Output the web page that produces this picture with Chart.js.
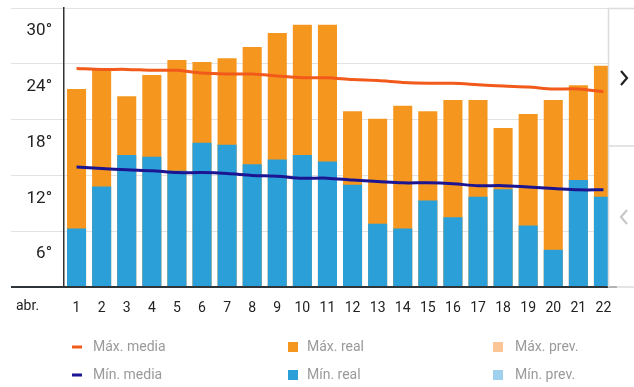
<!DOCTYPE html>
<html>
<head>
<meta charset="utf-8">
<script src="https://cdn.jsdelivr.net/npm/chart.js@4"></script>
<style>
  html, body { margin: 0; padding: 0; background: #fff; }
  #wrap { position: relative; width: 634px; height: 387px; }
</style>
</head>
<body>
<div id="wrap"><canvas id="c"></canvas></div>
<script>
const days = ['1','2','3','4','5','6','7','8','9','10','11','12','13','14','15','16','17','18','19','20','21','22'];
const maxReal = [21.3, 23.4, 20.5, 22.8, 24.4, 24.2, 24.6, 25.8, 27.3, 28.2, 28.2, 18.9, 18.1, 19.5, 18.9, 20.1, 20.1, 17.1, 18.6, 20.1, 21.7, 23.8];
const minReal = [6.3, 10.8, 14.2, 14.0, 12.5, 15.5, 15.3, 13.2, 13.7, 14.2, 13.5, 11.0, 6.8, 6.3, 9.3, 7.5, 9.7, 10.5, 6.6, 4.0, 11.5, 9.7];
const maxMedia = [23.5, 23.4, 23.4, 23.3, 23.3, 23.0, 22.9, 22.9, 22.7, 22.5, 22.5, 22.3, 22.2, 22.0, 21.9, 21.9, 21.75, 21.6, 21.5, 21.3, 21.3, 21.0];
const minMedia = [12.9, 12.75, 12.6, 12.5, 12.3, 12.3, 12.2, 12.0, 11.9, 11.7, 11.7, 11.5, 11.35, 11.2, 11.2, 11.1, 10.9, 10.9, 10.75, 10.6, 10.45, 10.45];
const maxPrev = days.map(() => null);
const minPrev = days.map(() => null);
const yTicks = [0, 6, 12, 18, 24, 30];

const FONT = 'Roboto, "Liberation Sans", sans-serif';

// leyenda en 3 columnas x 2 filas
const legendGrid = {
  id: 'legendGrid',
  afterDraw(chart) {
    const ctx = chart.ctx;
    const ds = chart.data.datasets;
    const cols = [[72, 93], [287, 307], [492, 515]];
    const rows = [347, 375];
    const order = [[0, 2, 4], [1, 3, 5]];
    ctx.save();
    ctx.font = '14px ' + FONT;
    ctx.textBaseline = 'middle';
    ctx.textAlign = 'left';
    order.forEach((row, r) => {
      row.forEach((i, c) => {
        const d = ds[i];
        const y = rows[r];
        ctx.fillStyle = d.type === 'line' ? d.borderColor : d.backgroundColor;
        if (d.type === 'line') ctx.fillRect(cols[c][0], y - 1.5, 10, 3);
        else ctx.fillRect(cols[c][0] + 1, y - 5, 10, 10);
        ctx.fillStyle = '#9a9a9a';
        ctx.fillText(d.label, cols[c][1], y);
      });
    });
    // mes
    ctx.fillStyle = '#222';
    ctx.font = '14px ' + FONT;
    ctx.fillText('abr.', 16, 306);
    ctx.restore();
  }
};

// panel de navegación a la derecha
const sidePanel = {
  id: 'sidePanel',
  afterDraw(chart) {
    const ctx = chart.ctx;
    const a = chart.chartArea;
    ctx.save();
    ctx.fillStyle = '#fff';
    ctx.fillRect(609, 0, 25, a.bottom - 1);
    ctx.strokeStyle = '#dcdcdc';
    ctx.lineWidth = 1.5;
    ctx.beginPath();
    ctx.moveTo(608.5, a.top); ctx.lineTo(608.5, a.bottom);
    ctx.moveTo(608, a.top + 0.5); ctx.lineTo(634, a.top + 0.5);
    ctx.moveTo(608, 146); ctx.lineTo(634, 146);
    ctx.moveTo(608, a.bottom); ctx.lineTo(634, a.bottom);
    ctx.stroke();
    ctx.lineWidth = 2.2;
    ctx.strokeStyle = '#222';
    ctx.beginPath();
    ctx.moveTo(621, 71); ctx.lineTo(627, 78); ctx.lineTo(621, 85);
    ctx.stroke();
    ctx.strokeStyle = '#c8c8c8';
    ctx.beginPath();
    ctx.moveTo(627, 210); ctx.lineTo(621, 217); ctx.lineTo(627, 224);
    ctx.stroke();
    ctx.restore();
  }
};

new Chart(document.getElementById('c').getContext('2d'), {
  data: {
    labels: days,
    datasets: [
      { type: 'line', label: 'Máx. media', data: maxMedia, borderColor: '#f25a1b', backgroundColor: '#f25a1b', borderWidth: 3, pointRadius: 0, tension: 0.3 },
      { type: 'line', label: 'Mín. media', data: minMedia, borderColor: '#1c1592', backgroundColor: '#1c1592', borderWidth: 3, pointRadius: 0, tension: 0.3 },
      { type: 'bar', label: 'Máx. real', data: maxReal, backgroundColor: '#f5971f', grouped: false, order: 4 },
      { type: 'bar', label: 'Mín. real', data: minReal, backgroundColor: '#2b9fd8', grouped: false, order: 3 },
      { type: 'bar', label: 'Máx. prev.', data: maxPrev, backgroundColor: '#fcc596', grouped: false, order: 6 },
      { type: 'bar', label: 'Mín. prev.', data: minPrev, backgroundColor: '#9fd1ee', grouped: false, order: 5 }
    ]
  },
  options: {
    responsive: true,
    maintainAspectRatio: false,
    animation: false,
    layout: { padding: { left: 0, right: 18, top: 8, bottom: 0 } },
    datasets: { bar: { barPercentage: 0.76, categoryPercentage: 1 } },
    scales: {
      x: {
        grid: { display: false },
        border: { color: '#2d3538', width: 2 },
        ticks: { color: '#222', font: { family: FONT, size: 14 }, padding: 5, maxRotation: 0, autoSkip: false },
        afterFit: (s) => { s.height = 100; }
      },
      y: {
        min: 0, max: 30,
        afterBuildTicks: (s) => { s.ticks = yTicks.map(v => ({ value: v })); },
        grid: {
          color: (c) => c.tick && c.tick.value === 0 ? '#2d3538' : '#e2e2e2',
          lineWidth: (c) => c.tick && c.tick.value === 0 ? 2 : 1,
          tickLength: 53
        },
        border: { color: '#333', width: 1.5 },
        ticks: {
          color: '#222',
          font: { family: FONT, size: 17 },
          padding: -41,
          labelOffset: 23,
          callback: (v) => v === 0 ? '' : v + '°'
        },
        afterFit: (s) => { s.width = 64; }
      }
    },
    plugins: {
      legend: { display: false },
      tooltip: { enabled: false }
    }
  },
  plugins: [sidePanel, legendGrid]
});
</script>
</body>
</html>
